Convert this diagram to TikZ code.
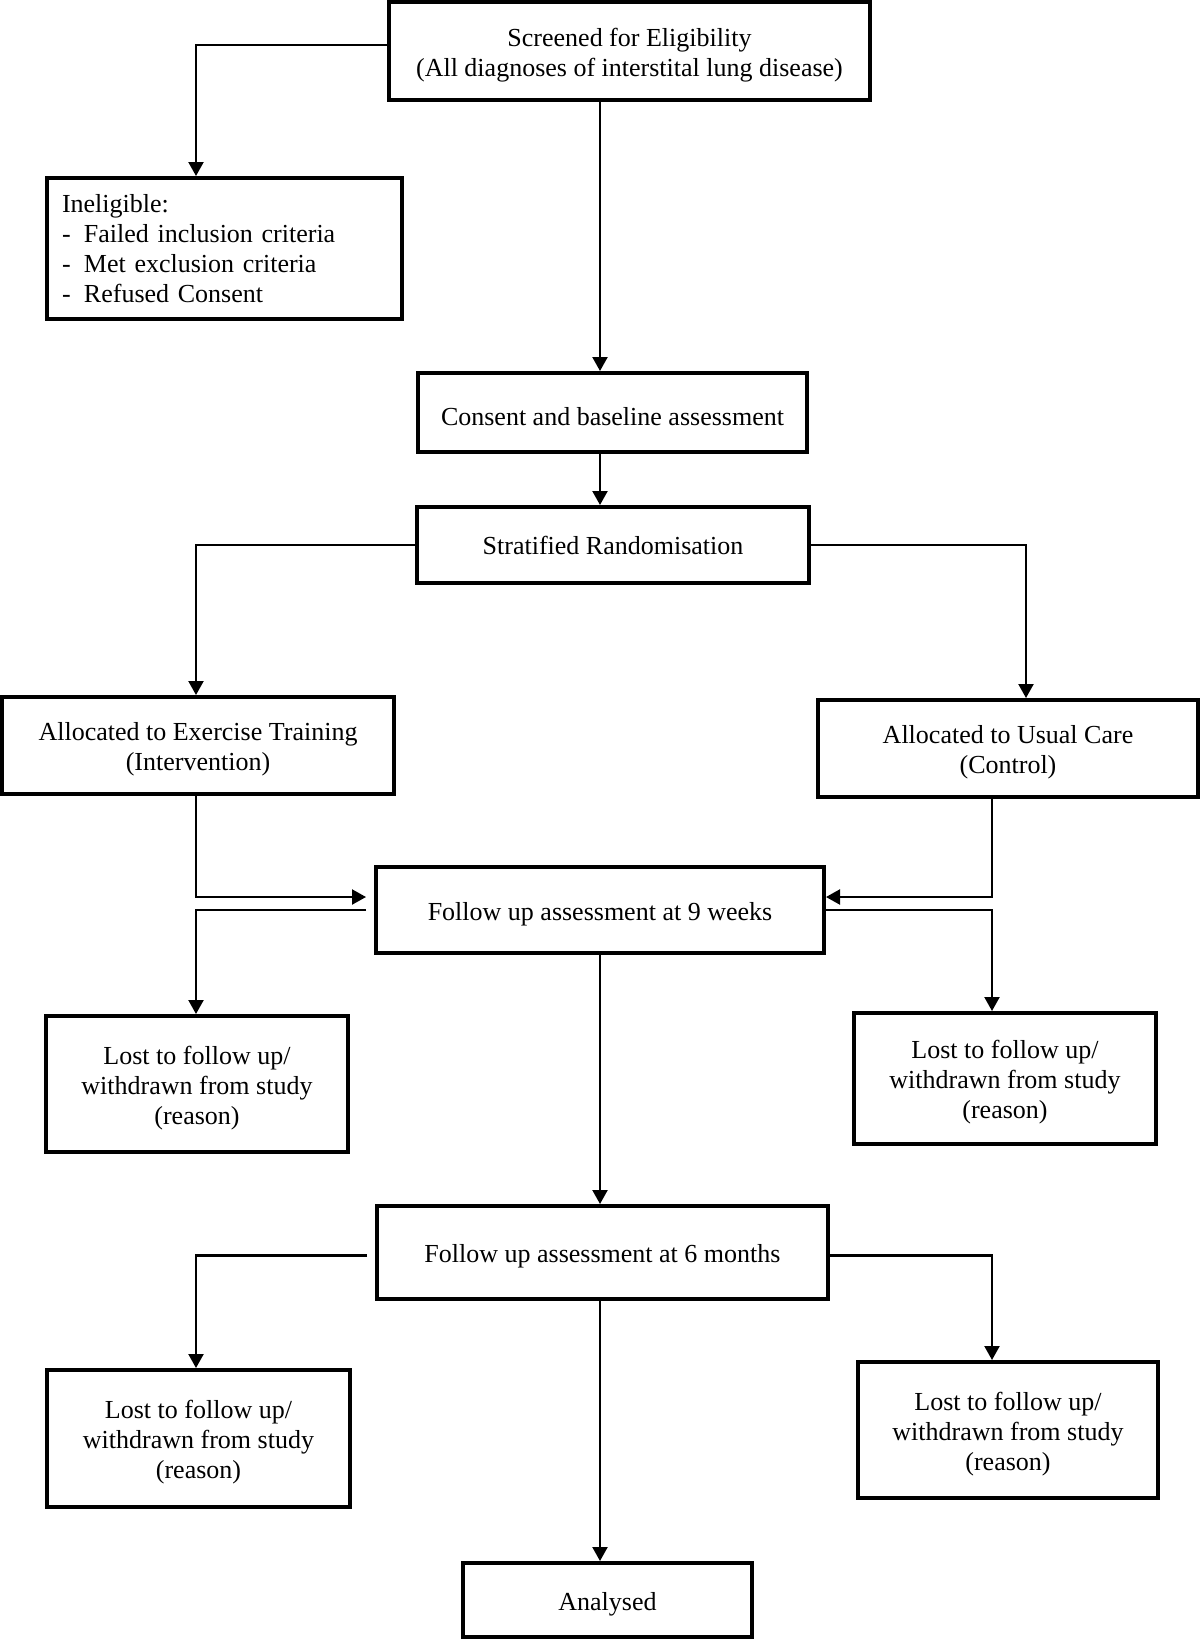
\documentclass[tikz,border=0pt]{standalone}
\usepackage{fontspec}
\setmainfont{Liberation Serif}
\usetikzlibrary{arrows.meta,calc}
\newcommand{\lowstrut}{\rule{0pt}{26pt}}
\begin{document}
\begin{tikzpicture}[x=1pt,y=-1pt,
  box/.style={draw=black,line width=4pt,fill=white,align=center,inner sep=4pt,
    font=\fontsize{26pt}{30pt}\selectfont},
  arr/.style={line width=2.2pt,-{Triangle[length=14pt,width=15pt]}},
  gapin/.style={shorten >=8pt},
  gapout/.style={shorten <=8pt}]
\useasboundingbox (0,0) rectangle (1200,1639);
\coordinate (vx) at (600,0);
\coordinate (lx) at (196,0);
\coordinate (rx) at (992,0);
\coordinate (rx2) at (1026,0);
\node[box,minimum width=481pt,minimum height=98pt] (scr) at (629.5,51)
  {\lowstrut Screened for Eligibility\\(All diagnoses of interstital lung disease)};
\node[box,text width=325pt,inner xsep=15pt,minimum height=141pt,align=left] (inel) at (224.5,248.5)
  {Ineligible:\\\makebox[22pt][l]{-}Failed inclusion criteria\\\makebox[22pt][l]{-}Met exclusion criteria\\\makebox[22pt][l]{-}Refused Consent};
\node[box,minimum width=389pt,minimum height=79pt] (cons) at (612.5,412.5)
  {\lowstrut Consent and baseline assessment};
\node[box,minimum width=392pt,minimum height=76pt] (strat) at (613,545)
  {Stratified Randomisation};
\node[box,minimum width=392pt,minimum height=97pt] (allocE) at (198,745.5)
  {\lowstrut Allocated to Exercise Training\\(Intervention)};
\node[box,minimum width=380pt,minimum height=97pt] (allocU) at (1008,748.5)
  {\lowstrut Allocated to Usual Care\\(Control)};
\node[box,minimum width=448pt,minimum height=86pt] (fu9) at (600,910)
  {\lowstrut Follow up assessment at 9 weeks};
\node[box,minimum width=302pt,minimum height=136pt] (l9l) at (197,1084)
  {\lowstrut Lost to follow up/\\withdrawn from study\\(reason)};
\node[box,minimum width=302pt,minimum height=131pt] (l9r) at (1005,1078.5)
  {\lowstrut Lost to follow up/\\withdrawn from study\\(reason)};
\node[box,minimum width=451pt,minimum height=93pt] (fu6) at (602.5,1252.5)
  {\lowstrut Follow up assessment at 6 months};
\node[box,minimum width=303pt,minimum height=137pt] (l6l) at (198.5,1438.5)
  {\lowstrut Lost to follow up/\\withdrawn from study\\(reason)};
\node[box,minimum width=300pt,minimum height=136pt] (l6r) at (1008,1430)
  {\lowstrut Lost to follow up/\\withdrawn from study\\(reason)};
\node[box,minimum width=289pt,minimum height=74pt] (anal) at (607.5,1600)
  {\lowstrut Analysed};
% connectors
\draw[arr] ([yshift=6pt]scr.west) -| (inel.north -| lx);
\draw[arr] (scr.south -| vx) -- (cons.north -| vx);
\draw[arr] (cons.south -| vx) -- (strat.north -| vx);
\draw[arr] (strat.west) -| (allocE.north -| lx);
\draw[arr] (strat.east) -| (allocU.north -| rx2);
\draw[arr,gapin] (allocE.south -| lx) |- ([yshift=13pt]fu9.west);
\draw[arr] (allocU.south -| rx) |- ([yshift=13pt]fu9.east);
\draw[arr,gapout] (fu9.west) -| (l9l.north -| lx);
\draw[arr] (fu9.east) -| (l9r.north -| rx);
\draw[arr] (fu9.south -| vx) -- (fu6.north -| vx);
\draw[arr,gapout] ([yshift=-3pt]fu6.west) -| (l6l.north -| lx);
\draw[arr] ([yshift=-3pt]fu6.east) -| (l6r.north -| rx);
\draw[arr] (fu6.south -| vx) -- (anal.north -| vx);
\end{tikzpicture}
\end{document}
